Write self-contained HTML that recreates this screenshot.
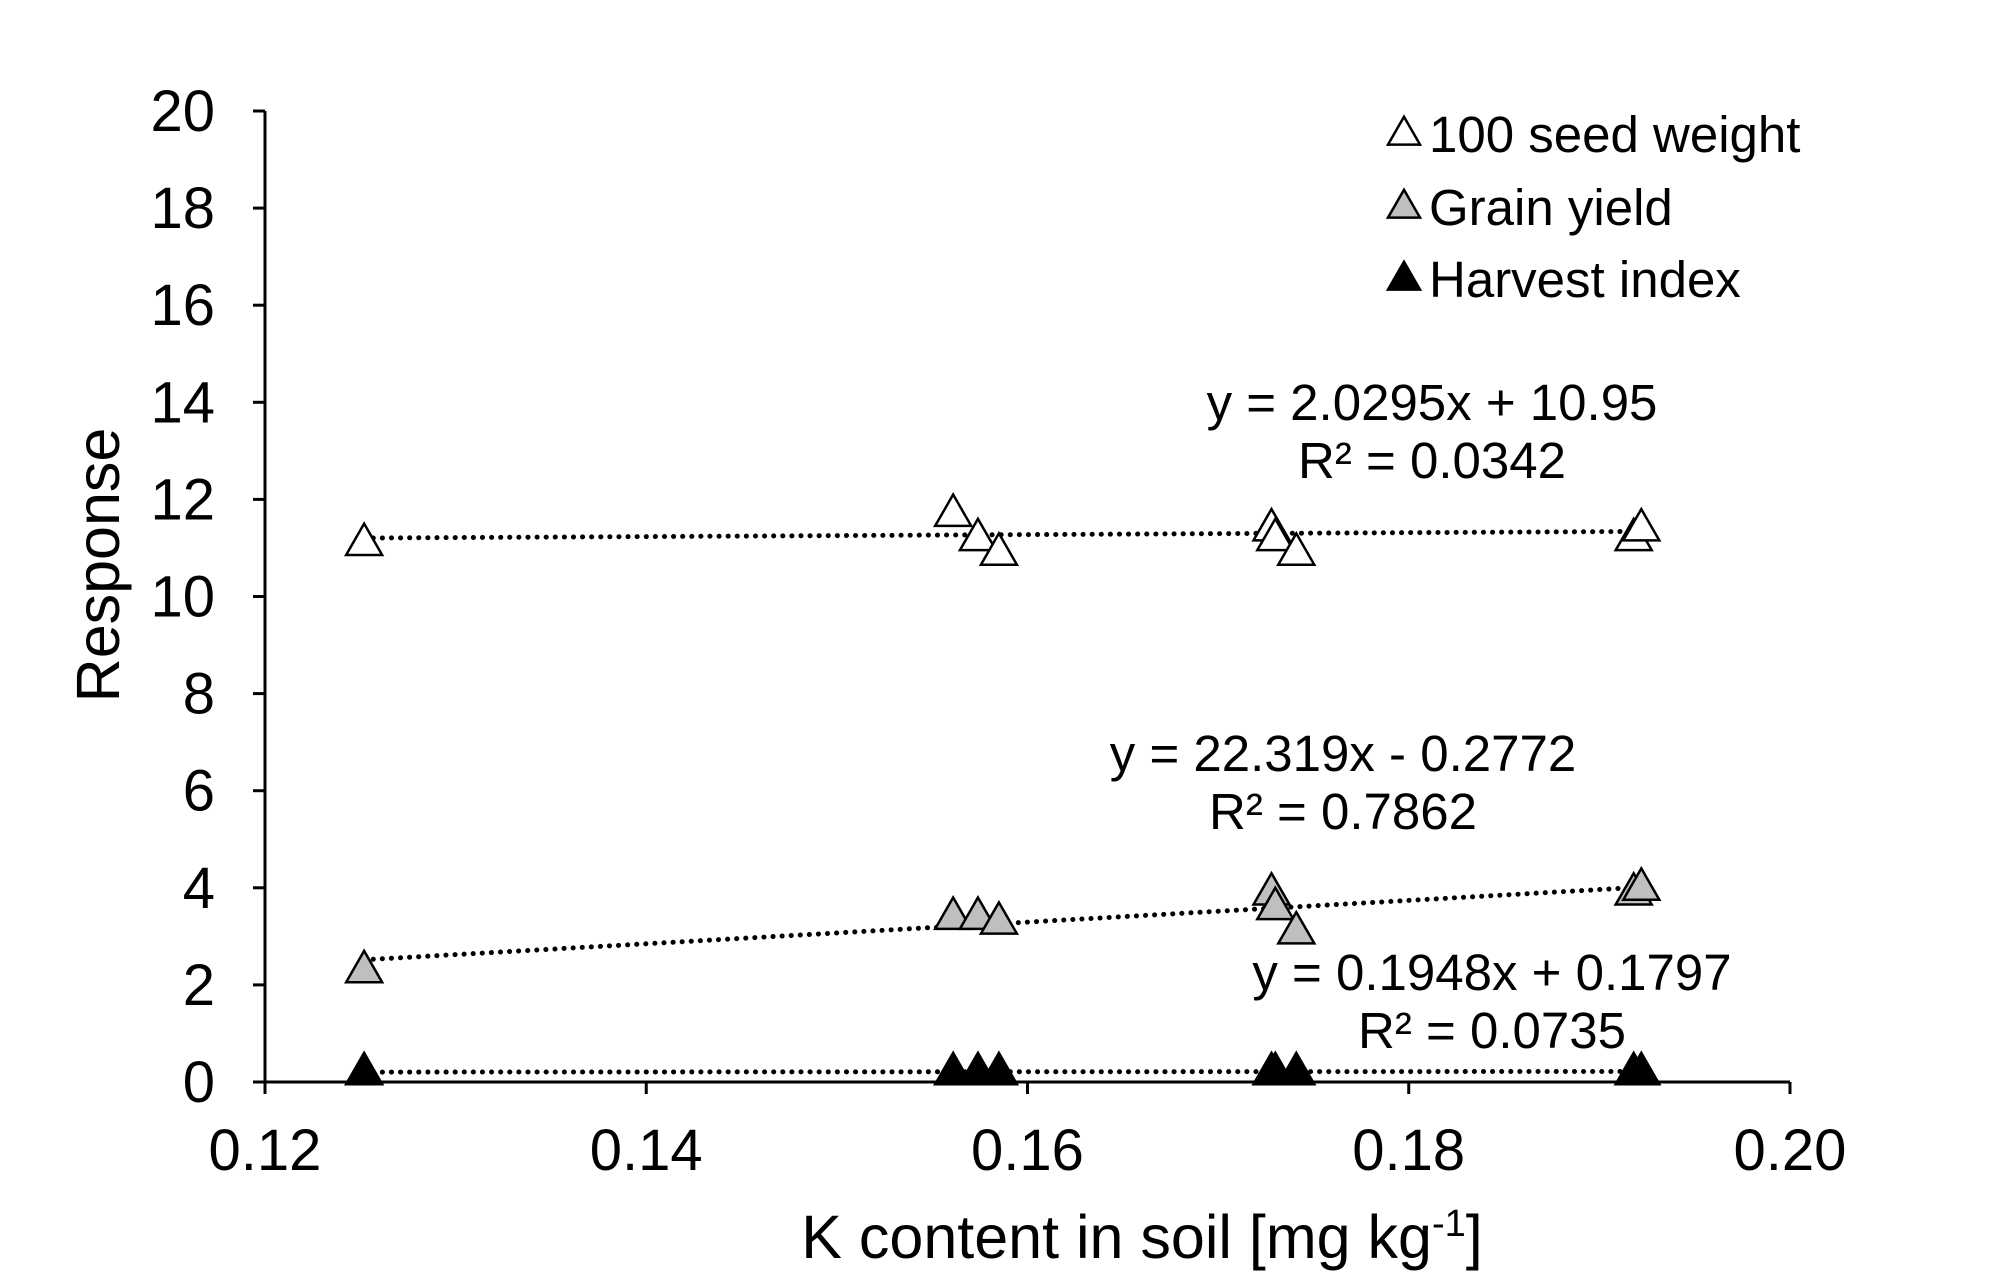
<!DOCTYPE html>
<html><head><meta charset="utf-8"><style>
html,body{margin:0;padding:0;background:#fff;}
svg{display:block;font-family:"Liberation Sans",Arial,sans-serif;}
</style></head><body>
<svg id="chart" width="2000" height="1282" viewBox="0 0 2000 1282"></svg>
<script>
const xTicks = [0.12, 0.14, 0.16, 0.18, 0.20];
const xTickLabels = ["0.12", "0.14", "0.16", "0.18", "0.20"];
const yTicks = [0, 2, 4, 6, 8, 10, 12, 14, 16, 18, 20];
const seedX = [0.1252, 0.1561, 0.1574, 0.1585, 0.1728, 0.1730, 0.1741, 0.1918, 0.1922];
const seedY = [11.1, 11.7, 11.2, 10.9, 11.4, 11.2, 10.9, 11.2, 11.4];
const grainX = [0.1252, 0.1561, 0.1574, 0.1585, 0.1728, 0.1730, 0.1741, 0.1918, 0.1922];
const grainY = [2.3, 3.4, 3.4, 3.3, 3.9, 3.6, 3.1, 3.9, 4.0];
const hiX = [0.1252, 0.1561, 0.1574, 0.1585, 0.1728, 0.1730, 0.1741, 0.1918, 0.1922];
const hiY = [0.2, 0.2, 0.2, 0.2, 0.2, 0.2, 0.2, 0.2, 0.2];
const seedFit = [2.0295, 10.95];
const grainFit = [22.319, -0.2772];
const hiFit = [0.1948, 0.1797];

const NS = "http://www.w3.org/2000/svg";
const svg = document.getElementById("chart");
const X0 = 265, X1 = 1790, Y0 = 1082, Y1 = 111;
const sx = v => X0 + (v - 0.12) / 0.08 * (X1 - X0);
const sy = v => Y0 - v / 20 * (Y0 - Y1);
function el(tag, attrs, text) {
  const e = document.createElementNS(NS, tag);
  for (const k in attrs) e.setAttribute(k, attrs[k]);
  if (text !== undefined) e.textContent = text;
  svg.appendChild(e);
  return e;
}
let a = el("line", {x1: X0, y1: Y0, x2: X1, y2: Y0, stroke: "#000", "stroke-width": 3});


a = el("line", {x1: X0, y1: Y0, x2: X0, y2: Y1, stroke: "#000", "stroke-width": 3});


xTicks.forEach((t, i) => {
  const tk = el("line", {x1: sx(t), y1: Y0, x2: sx(t), y2: Y0 + 12, stroke: "#000", "stroke-width": 3});
  
  
  const lb = el("text", {x: sx(t), y: Y0 + 88, "font-size": 58, "text-anchor": "middle"}, xTickLabels[i]);
  
  
});
yTicks.forEach(t => {
  const tk = el("line", {x1: X0 - 12, y1: sy(t), x2: X0, y2: sy(t), stroke: "#000", "stroke-width": 3});
  
  
  const lb = el("text", {x: X0 - 50, y: sy(t) + 20, "font-size": 58, "text-anchor": "end"}, String(t));
  
  
});
function trend(xs, fit, name) {
  const xmin = Math.min(...xs), xmax = Math.max(...xs);
  const l = el("line", {x1: sx(xmin), y1: sy(fit[0] * xmin + fit[1]), x2: sx(xmax), y2: sy(fit[0] * xmax + fit[1]),
    stroke: "#000", "stroke-width": 5, "stroke-dasharray": "0.1 9", "stroke-linecap": "round"});
  
  
}
trend(seedX, seedFit, "seed-weight-trendline");
trend(grainX, grainFit, "grain-yield-trendline");
trend(hiX, hiFit, "harvest-index-trendline");
function tri(cx, cy, fill, s) {
  const h = s * 0.87;
  return el("polygon", {points: `${cx},${cy - h * 0.62} ${cx - s / 2},${cy + h * 0.38} ${cx + s / 2},${cy + h * 0.38}`,
    fill: fill, stroke: "#000", "stroke-width": 2.5});
}
function series(xs, ys, fill, name) {
  xs.forEach((x, i) => {
    const p = tri(sx(x), sy(ys[i]), fill, 36);
    
    
  });
}
series(seedX, seedY, "#fff", "seed-weight-point");
series(grainX, grainY, "#bfbfbf", "grain-yield-point");
series(hiX, hiY, "#000", "harvest-index-point");
const legNames = ["100 seed weight", "Grain yield", "Harvest index"];
const legFills = ["#fff", "#bfbfbf", "#000"];
const legY = [134, 207, 279];
legNames.forEach((n, i) => {
  const p = tri(1404, legY[i], legFills[i], 32);
  
  
  const t = el("text", {x: 1429, y: legY[i] + 18, "font-size": 51}, n);
  
  
});
const eqs = [["y = 2.0295x + 10.95", "R² = 0.0342", 1432, 402],
             ["y = 22.319x - 0.2772", "R² = 0.7862", 1343, 753],
             ["y = 0.1948x + 0.1797", "R² = 0.0735", 1492, 972]];
eqs.forEach(e => {
  const t1 = el("text", {x: e[2], y: e[3] + 18, "font-size": 51, "text-anchor": "middle"}, e[0]);
  
  
  const t2 = el("text", {x: e[2], y: e[3] + 76, "font-size": 51, "text-anchor": "middle"}, e[1]);
  
  
});
const yt = el("text", {x: 0, y: 0, "font-size": 61, "text-anchor": "middle", transform: "translate(119,565) rotate(-90)"}, "Response");


const xt = el("text", {x: 1142, y: 1258, "font-size": 61, "text-anchor": "middle"});


xt.innerHTML = 'K content in soil [mg kg<tspan dy="-22" font-size="38">-1</tspan><tspan dy="22">]</tspan>';
</script>
</body></html>
